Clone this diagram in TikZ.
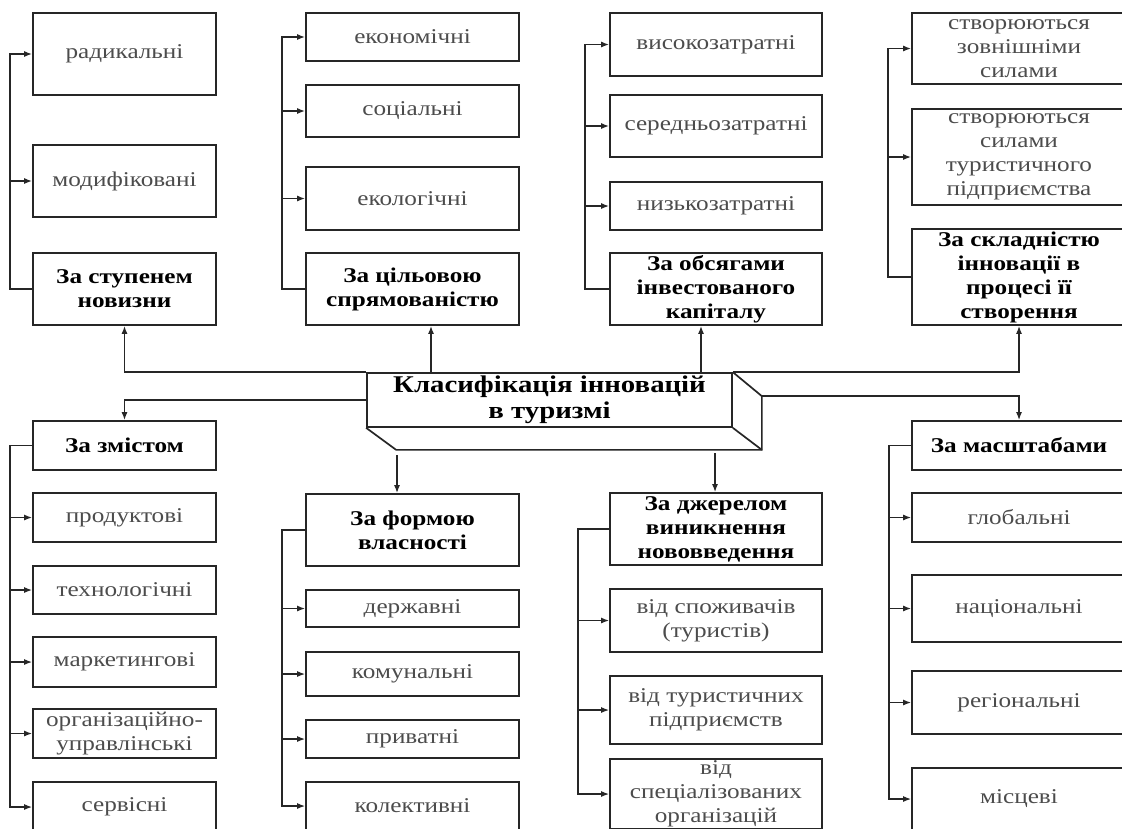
\documentclass[tikz,border=0pt]{standalone}
\usepackage{fontspec}
\setmainfont[FakeStretch=1.2]{Liberation Serif}
\usetikzlibrary{arrows.meta,positioning,calc}

\begin{document}
\begin{tikzpicture}[x=1pt,y=-1pt,>={Latex[length=8pt,width=6pt]},
 box/.style={draw=black!85,line width=1.7pt,align=center,inner sep=1pt,text=black!70,
  font=\fontsize{21}{24}\selectfont},
 head/.style={box,text=black,font=\fontsize{21}{24}\selectfont\bfseries},
 c1/.style={minimum width=183pt},
 c2/.style={minimum width=213pt},
 c3/.style={minimum width=212pt},
 c4/.style={minimum width=214pt},
 link/.style={draw=black!85,line width=1.4pt}]
\fill[white] (0,0) rectangle (1122,828);
\useasboundingbox (0,0) rectangle (1122,828);
% upper row
\node[box,c1,minimum height=82pt] (rad) at (124.5,54) {радикальні};
\node[box,c1,minimum height=72pt] (mod) at (124.5,181) {модифіковані};
\node[head,c1,minimum height=72pt] (nov) at (124.5,289) {За ступенем\\новизни};
\node[box,c2,minimum height=48pt] (eko) at (412.5,37) {економічні};
\node[box,c2,minimum height=52pt] (soc) at (412.5,111) {соціальні};
\node[box,c2,minimum height=63pt] (eco) at (412.5,198.5) {екологічні};
\node[head,c2,minimum height=72pt] (tsil) at (412.5,289) {За цільовою\\спрямованістю};
\node[box,c3,minimum height=63pt] (vys) at (716,44.5) {високозатратні};
\node[box,c3,minimum height=62pt] (ser) at (716,126) {середньозатратні};
\node[box,c3,minimum height=48pt] (nyz) at (716,206) {низькозатратні};
\node[head,c3,minimum height=72pt] (obs) at (716,289) {За обсягами\\інвестованого\\капіталу};
\node[box,c4,minimum height=71pt] (zov) at (1019,48.5) {створюються\\зовнішніми\\силами};
\node[box,c4,minimum height=96pt] (vlas) at (1019,157) {створюються\\силами\\туристичного\\підприємства};
\node[head,c4,minimum height=96pt] (skl) at (1019,277) {За складністю\\інновації в\\процесі її\\створення};
% centre block
\node[head,minimum width=365pt,minimum height=54pt,font=\fontsize{24}{26}\selectfont\bfseries] (cls) at (549.5,400) {Класифікація інновацій\\в туризмі};
\coordinate (bk) at ($(cls.north east)+(29,24)$);
\draw[line width=1.7pt,black!85] (cls.south west) -- ++(30,22) -| (bk) -- (cls.north east);
\draw[line width=1.7pt,black!85] (cls.south east) -- ++(29,22);
% lower row
\node[head,c1,minimum height=49pt] (zmi) at (124.5,445.5) {За змістом};
\node[box,c1,minimum height=49pt] (prod) at (124.5,517.5) {продуктові};
\node[box,c1,minimum height=48pt] (tech) at (124.5,590) {технологічні};
\node[box,c1,minimum height=50pt] (mark) at (124.5,662) {маркетингові};
\node[box,c1,minimum height=49pt] (org) at (124.5,733.5) {організаційно-\\управлінські};
\node[box,c1,minimum height=50pt] (serv) at (124.5,807) {сервісні};
\node[head,c2,minimum height=72pt] (form) at (412.5,530) {За формою\\власності};
\node[box,c2,minimum height=37pt] (derzh) at (412.5,608.5) {державні};
\node[box,c2,minimum height=44pt] (kom) at (412.5,674) {комунальні};
\node[box,c2,minimum height=38pt] (pryv) at (412.5,739) {приватні};
\node[box,c2,minimum height=48pt] (kol) at (412.5,806) {колективні};
\node[head,c3,minimum height=72pt] (dzh) at (716,529) {За джерелом\\виникнення\\нововведення};
\node[box,c3,minimum height=63pt] (spozh) at (716,620.5) {від споживачів\\(туристів)};
\node[box,c3,minimum height=68pt] (tur) at (716,710) {від туристичних\\підприємств};
\node[box,c3,minimum height=70pt] (spec) at (716,794) {від\\спеціалізованих\\організацій};
\node[head,c4,minimum height=49pt] (mas) at (1019,445.5) {За масштабами};
\node[box,c4,minimum height=49pt] (glob) at (1019,517.5) {глобальні};
\node[box,c4,minimum height=67pt] (nats) at (1019,608.5) {національні};
\node[box,c4,minimum height=63pt] (reg) at (1019,702.5) {регіональні};
\node[box,c4,minimum height=62pt] (mis) at (1019,799) {місцеві};
% from the centre block
\coordinate (u2) at (431,373);\coordinate (u3) at (701,373);
\coordinate (d2) at (397,455);\coordinate (d3) at (715,453);
\draw[link,->] (cls.north west) -| (nov.south);
\draw[link,->] (cls.north east) -| (skl.south);
\draw[link,->] (u2) -- (u2 |- tsil.south);\draw[link,->] (u3) -- (u3 |- obs.south);
\draw[link,->] (cls.west) -| (zmi.north);
\draw[link,->] (bk) -| (mas.north);
\draw[link,->] (d2) -- (d2 |- form.north);\draw[link,->] (d3) -- (d3 |- dzh.north);
% branches
\foreach \h/\d/\kids in {nov/22/{rad,mod},tsil/23/{eko,soc,eco},obs/24/{vys,ser,nyz},
 skl/23/{zov,vlas},zmi/22/{prod,tech,mark,org,serv},form/23/{derzh,kom,pryv,kol},
 dzh/31/{spozh,tur,spec},mas/22/{glob,nats,reg,mis}}
 \foreach \k in \kids
  \draw[link,->] (\h.west) -- ++(-\d,0) |- (\k.west);
\end{tikzpicture}
\end{document}
